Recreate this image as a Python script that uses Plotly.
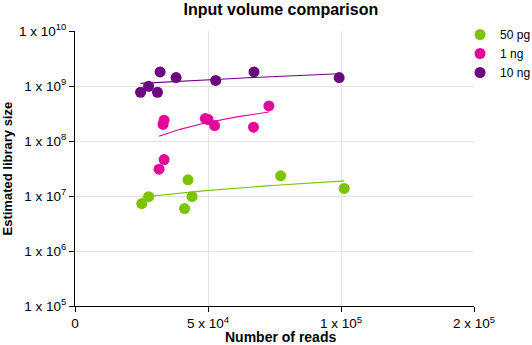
import numpy as np
import plotly.graph_objects as go

# Data (number of reads vs estimated library size)
series_names = ["50 pg", "1 ng", "10 ng"]
series_colors = ["#7dc400", "#e2069b", "#6c0680"]

pg50_x = [25100, 27700, 42500, 41200, 44000, 77300, 101200]
pg50_y = [7.3e6, 9.7e6, 1.97e7, 5.9e6, 9.7e6, 2.33e7, 1.37e7]

ng1_x = [31600, 33500, 33100, 33500, 49000, 50000, 52500, 67100, 72900]
ng1_y = [3.08e7, 4.6e7, 2.0e8, 2.39e8, 2.56e8, 2.46e8, 1.91e8, 1.78e8, 4.34e8]

ng10_x = [24650, 27650, 31000, 32000, 38000, 52900, 67300, 99300]
ng10_y = [7.7e8, 9.9e8, 7.7e8, 1.80e9, 1.42e9, 1.26e9, 1.80e9, 1.42e9]

x_tickvals = [0, 50000, 100000, 150000]
x_ticktext = ["0", "5 x 10<sup>4</sup>", "1 x 10<sup>5</sup>", "2 x 10<sup>5</sup>"]
y_tickvals = [1e5, 1e6, 1e7, 1e8, 1e9, 1e10]
y_ticktext = ["1 x 10<sup>5</sup>", "1 x 10<sup>6</sup>", "1 x 10<sup>7</sup>",
              "1 x 10<sup>8</sup>", "1 x 10<sup>9</sup>", "1 x 10<sup>10</sup>"]

datasets = [(pg50_x, pg50_y), (ng1_x, ng1_y), (ng10_x, ng10_y)]

fig = go.Figure()

# Linear regression lines (drawn underneath)
for (xs, ys), name, col in zip(datasets, series_names, series_colors):
    b, a = np.polyfit(np.array(xs, float), np.array(ys, float), 1)
    fx = np.linspace(min(xs), max(xs), 80)
    fig.add_trace(go.Scatter(x=fx, y=a + b * fx, mode="lines",
                             line=dict(color=col, width=1.1),
                             showlegend=False, hoverinfo="skip"))

for (xs, ys), name, col in zip(datasets, series_names, series_colors):
    fig.add_trace(go.Scatter(x=xs, y=ys, mode="markers", name=name,
                             marker=dict(color=col, size=11, line=dict(width=0))))

font = "Liberation Sans, Arial, sans-serif"
fig.update_layout(
    width=532, height=345,
    margin=dict(l=75, r=58, t=31, b=39, autoexpand=False),
    plot_bgcolor="white", paper_bgcolor="white",
    font=dict(family=font, size=12, color="black"),
    title=dict(text="<b>Input volume comparison</b>", x=0.528, xanchor="center",
               y=0.974, yanchor="middle", font=dict(size=16, family=font)),
    legend=dict(x=0.965, xanchor="left", y=1.04, yanchor="top",
                bgcolor="rgba(0,0,0,0)", font=dict(size=12), itemwidth=30,
                tracegroupgap=0),
    xaxis=dict(range=[0, 150000], tickvals=x_tickvals, ticktext=x_ticktext,
               showgrid=True, gridcolor="#e3e3e3", gridwidth=1,
               showline=True, linecolor="black", linewidth=1,
               ticks="outside", ticklen=5, tickcolor="black",
               zeroline=False, tickfont=dict(size=13.5), automargin=False),
    yaxis=dict(type="log", range=[5, 10], tickvals=y_tickvals, ticktext=y_ticktext,
               showgrid=True, gridcolor="#e3e3e3", gridwidth=1,
               showline=True, linecolor="black", linewidth=1,
               ticks="outside", ticklen=5, tickcolor="black",
               zeroline=False, tickfont=dict(size=13.5), automargin=False),
    annotations=[
        dict(text="<b>Number of reads</b>", xref="paper", yref="paper",
             x=0.514, y=-0.113, xanchor="center", yanchor="middle",
             showarrow=False, font=dict(size=14, family=font)),
        dict(text="<b>Estimated library size</b>", xref="paper", yref="paper",
             x=-0.168, y=0.5, xanchor="center", yanchor="middle", textangle=-90,
             showarrow=False, font=dict(size=13, family=font)),
    ],
)

fig.write_html("out.html")
